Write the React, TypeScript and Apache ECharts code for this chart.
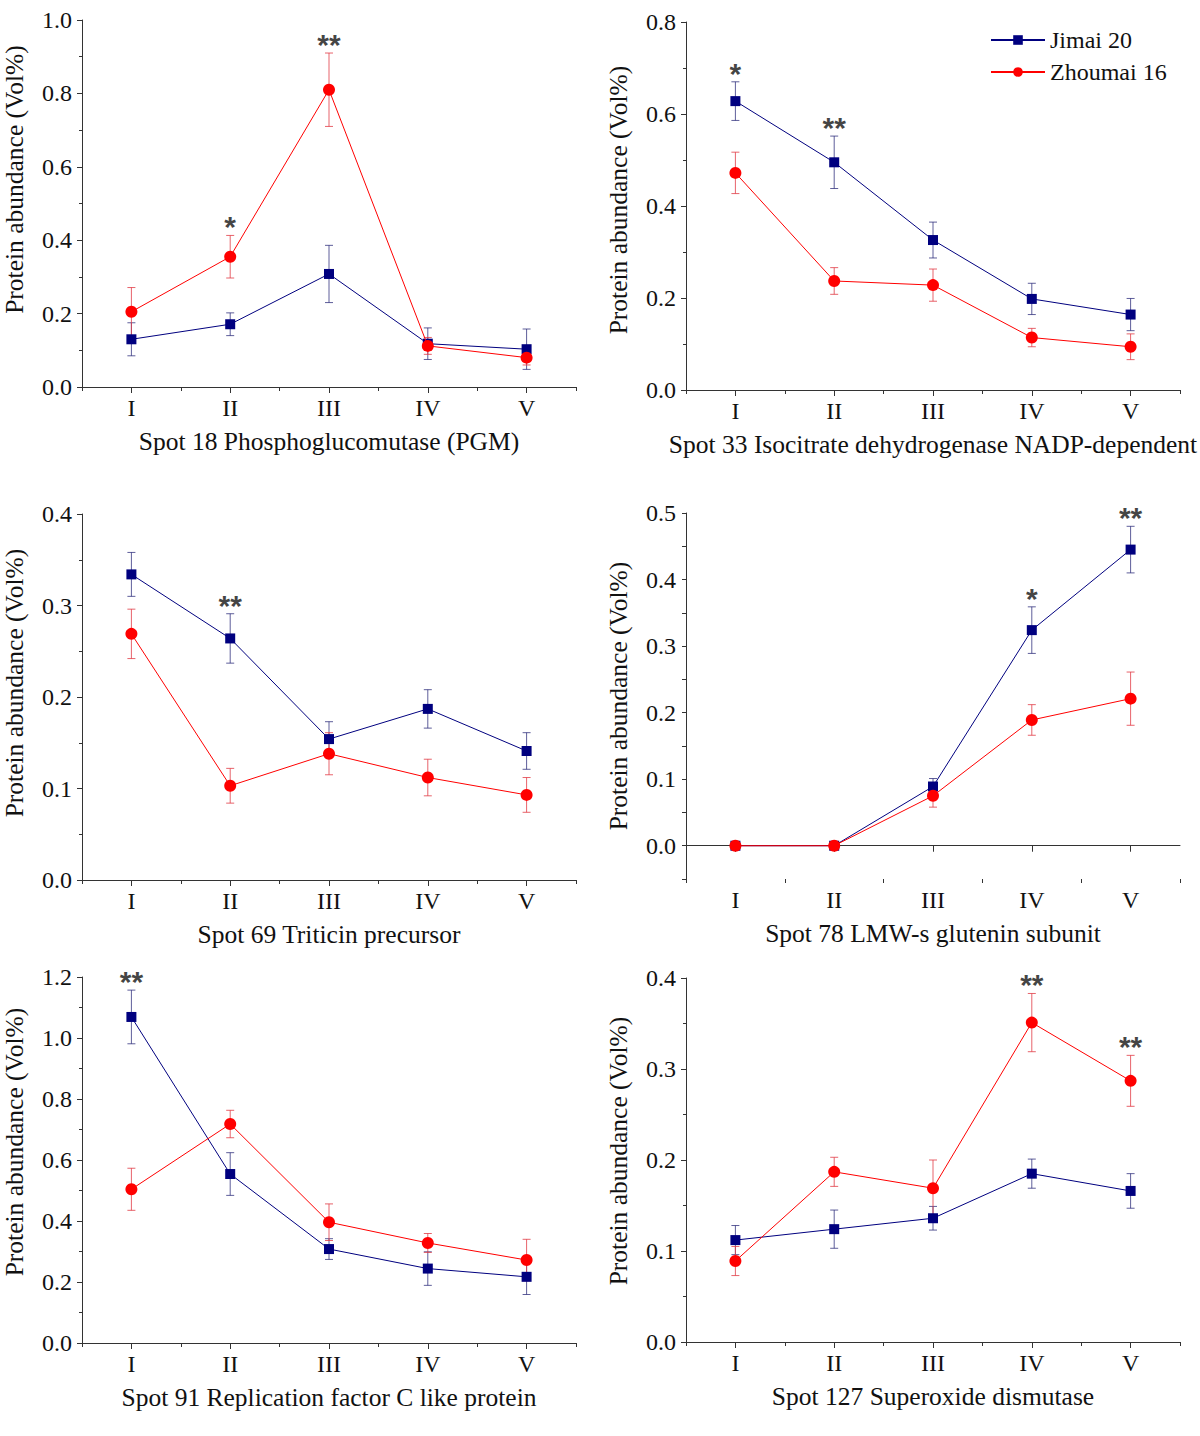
import React, { useEffect, useRef } from "react";
import * as echarts from "echarts";

const CATS = ["I", "II", "III", "IV", "V"];
const SERIES_NAMES = ["Jimai 20", "Zhoumai 16"];

// Spot 18
const p1Jimai = [0.130, 0.171, 0.308, 0.118, 0.103];
const p1JimaiErr = [0.045, 0.031, 0.078, 0.043, 0.055];
const p1Zhou = [0.205, 0.355, 0.810, 0.112, 0.080];
const p1ZhouErr = [0.066, 0.058, 0.100, 0.023, 0.020];
const p1Sig = ["", "*", "**", "", ""];

// Spot 33
const p2Jimai = [0.628, 0.495, 0.326, 0.198, 0.164];
const p2JimaiErr = [0.042, 0.057, 0.039, 0.034, 0.035];
const p2Zhou = [0.472, 0.237, 0.228, 0.114, 0.094];
const p2ZhouErr = [0.045, 0.029, 0.035, 0.020, 0.028];
const p2Sig = ["*", "**", "", "", ""];

// Spot 69
const p3Jimai = [0.334, 0.264, 0.154, 0.187, 0.141];
const p3JimaiErr = [0.024, 0.027, 0.019, 0.021, 0.020];
const p3Zhou = [0.269, 0.103, 0.138, 0.112, 0.093];
const p3ZhouErr = [0.027, 0.019, 0.023, 0.020, 0.019];
const p3Sig = ["", "**", "", "", ""];

// Spot 78
const p4Jimai = [0, 0, 0.089, 0.324, 0.445];
const p4JimaiErr = [0, 0, 0.012, 0.035, 0.035];
const p4Zhou = [0, 0, 0.075, 0.189, 0.221];
const p4ZhouErr = [0, 0, 0.017, 0.023, 0.040];
const p4Sig = ["", "", "", "*", "**"];

// Spot 91
const p5Jimai = [1.069, 0.554, 0.308, 0.244, 0.217];
const p5JimaiErr = [0.088, 0.070, 0.034, 0.055, 0.058];
const p5Zhou = [0.504, 0.718, 0.396, 0.328, 0.272];
const p5ZhouErr = [0.069, 0.045, 0.060, 0.031, 0.068];
const p5Sig = ["**", "", "", "", ""];

// Spot 127
const p6Jimai = [0.112, 0.124, 0.136, 0.185, 0.166];
const p6JimaiErr = [0.016, 0.021, 0.013, 0.016, 0.019];
const p6Zhou = [0.089, 0.187, 0.169, 0.351, 0.287];
const p6ZhouErr = [0.016, 0.016, 0.031, 0.032, 0.028];
const p6Sig = ["", "", "", "**", "**"];

const TITLES = [
  "Spot 18 Phosphoglucomutase (PGM)",
  "Spot 33 Isocitrate dehydrogenase NADP-dependent",
  "Spot 69 Triticin precursor",
  "Spot 78 LMW-s glutenin subunit",
  "Spot 91 Replication factor C like protein",
  "Spot 127 Superoxide dismutase",
];
const Y_TITLE = "Protein abundance (Vol%)";

const Y_MIN = [0, 0, 0, -0.05, 0, 0];
const Y_MAX = [1.0, 0.8, 0.4, 0.5, 1.2, 0.4];
const Y_INTERVAL = [0.2, 0.2, 0.1, 0.05, 0.2, 0.1];

const PANELS = [
  { j: p1Jimai, je: p1JimaiErr, z: p1Zhou, ze: p1ZhouErr, sig: p1Sig },
  { j: p2Jimai, je: p2JimaiErr, z: p2Zhou, ze: p2ZhouErr, sig: p2Sig },
  { j: p3Jimai, je: p3JimaiErr, z: p3Zhou, ze: p3ZhouErr, sig: p3Sig },
  { j: p4Jimai, je: p4JimaiErr, z: p4Zhou, ze: p4ZhouErr, sig: p4Sig },
  { j: p5Jimai, je: p5JimaiErr, z: p5Zhou, ze: p5ZhouErr, sig: p5Sig },
  { j: p6Jimai, je: p6JimaiErr, z: p6Zhou, ze: p6ZhouErr, sig: p6Sig },
];

const GRIDS = [
  { left: 82, top: 20, width: 494, height: 367 },
  { left: 686, top: 22, width: 494, height: 368 },
  { left: 82, top: 514, width: 494, height: 366 },
  { left: 686, top: 513, width: 494, height: 366 },
  { left: 82, top: 977, width: 494, height: 366 },
  { left: 686, top: 978, width: 494, height: 364 },
];
// upward shift of the y-axis title along the axis, per panel
const Y_TITLE_SHIFT = [24, 6, 14, 0, 18, 9];

const FONT = '"Liberation Serif", "Times New Roman", serif';
const BLUE = "#00007f";
const RED = "#ff0000";
const BLUE_ERR = "rgba(40,40,120,0.75)";
const RED_ERR = "rgba(225,60,70,0.8)";
const AXIS = "#333";

function errSeries(idx: number, vals: number[], errs: number[], color: string) {
  return {
    type: "custom",
    xAxisIndex: idx * 2,
    yAxisIndex: idx,
    z: 2,
    silent: true,
    encode: { x: 0, y: 1 },
    data: vals.map((v, k) => [k, v, errs[k]]),
    renderItem: (params: any, api: any) => {
      const x = api.value(0);
      const y = api.value(1);
      const e = api.value(2);
      if (!e) return { type: "group", children: [] };
      const hi = api.coord([x, y + e]);
      const lo = api.coord([x, y - e]);
      const cap = 4;
      const style = { stroke: color, lineWidth: 1 };
      return {
        type: "group",
        children: [
          { type: "line", shape: { x1: hi[0], y1: hi[1], x2: lo[0], y2: lo[1] }, style },
          { type: "line", shape: { x1: hi[0] - cap, y1: hi[1], x2: hi[0] + cap, y2: hi[1] }, style },
          { type: "line", shape: { x1: lo[0] - cap, y1: lo[1], x2: lo[0] + cap, y2: lo[1] }, style },
        ],
      };
    },
  };
}

function buildOption() {
  const grid: any[] = [];
  const xAxis: any[] = [];
  const yAxis: any[] = [];
  const series: any[] = [];

  PANELS.forEach((p, i) => {
    grid.push({ ...GRIDS[i], containLabel: false, outerBoundsMode: "none" });
    xAxis.push({
      type: "category",
      gridIndex: i,
      data: CATS,
      boundaryGap: true,
      position: "bottom",
      axisLine: { show: true, lineStyle: { color: AXIS, width: 1 } },
      axisTick: { show: true, alignWithLabel: true, interval: 0, length: 6, lineStyle: { color: AXIS } },
      axisLabel: { interval: 0, fontSize: 24, color: "#111", fontFamily: FONT, margin: 9 },
      splitLine: { show: false },
      name: TITLES[i],
      nameLocation: "middle",
      nameGap: 41,
      nameTextStyle: { fontSize: 25.5, color: "#111", fontFamily: FONT },
    });
    xAxis.push({
      type: "category",
      gridIndex: i,
      data: CATS,
      boundaryGap: true,
      position: "bottom",
      axisLine: { show: false },
      axisTick: { show: true, alignWithLabel: false, interval: 0, length: 4, lineStyle: { color: AXIS } },
      axisLabel: { show: false, interval: 0 },
      splitLine: { show: false },
    });
    const special = i === 3;
    yAxis.push({
      type: "value",
      gridIndex: i,
      min: Y_MIN[i],
      max: Y_MAX[i],
      interval: Y_INTERVAL[i],
      axisLine: { show: true, lineStyle: { color: AXIS, width: 1 } },
      axisTick: { show: true, inside: false, length: special ? 4 : 5, lineStyle: { color: AXIS } },
      minorTick: { show: !special, splitNumber: 2, length: 3, lineStyle: { color: AXIS } },
      splitLine: { show: false },
      axisLabel: {
        fontSize: 24,
        color: "#111",
        fontFamily: FONT,
        margin: 10,
        formatter: (v: number) => {
          if (special) {
            if (v < -1e-9) return "";
            if (Math.abs(v * 10 - Math.round(v * 10)) > 1e-6) return "";
          }
          return v.toFixed(1);
        },
      },
      name: Y_TITLE,
      nameLocation: "middle",
      nameGap: 55,
      nameRotate: 90,
      nameTextStyle: {
        fontSize: 25.5,
        color: "#111",
        fontFamily: FONT,
        padding: [0, 0, 0, Y_TITLE_SHIFT[i] * 2],
      },
    });

    series.push(errSeries(i, p.j, p.je, BLUE_ERR));
    series.push(errSeries(i, p.z, p.ze, RED_ERR));
    series.push({
      type: "line",
      name: SERIES_NAMES[0],
      xAxisIndex: i * 2,
      yAxisIndex: i,
      data: p.j,
      symbol: "rect",
      symbolSize: 10,
      showAllSymbol: true,
      itemStyle: { color: BLUE },
      lineStyle: { color: BLUE, width: 1 },
      z: 3,
    });
    series.push({
      type: "line",
      name: SERIES_NAMES[1],
      xAxisIndex: i * 2,
      yAxisIndex: i,
      data: p.z,
      symbol: "circle",
      symbolSize: 12,
      showAllSymbol: true,
      itemStyle: { color: RED },
      lineStyle: { color: RED, width: 1 },
      z: 4,
    });
    const sigData: any[] = [];
    p.sig.forEach((s, k) => {
      if (s) {
        const top = Math.max(p.j[k] + p.je[k], p.z[k] + p.ze[k]);
        sigData.push({ name: s, value: [k, top] });
      }
    });
    series.push({
      type: "scatter",
      xAxisIndex: i * 2,
      yAxisIndex: i,
      data: sigData,
      symbolSize: 1,
      itemStyle: { color: "transparent" },
      clip: false,
      silent: true,
      z: 5,
      label: {
        show: true,
        position: "top",
        distance: 0,
        offset: [0, 7],
        formatter: "{b}",
        fontSize: 30,
        fontWeight: "bold",
        fontFamily: '"Liberation Sans", Arial, sans-serif',
        color: "#111",
      },
    });
  });

  return {
    animation: false,
    backgroundColor: "#fff",
    textStyle: { fontFamily: FONT },
    legend: {
      data: SERIES_NAMES,
      orient: "vertical",
      left: 985,
      top: 23,
      itemWidth: 54,
      itemHeight: 12,
      itemGap: 8,
      textStyle: { fontSize: 24, color: "#111", fontFamily: FONT },
    },
    grid,
    xAxis,
    yAxis,
    series,
  };
}

export default function App() {
  const ref = useRef<HTMLDivElement>(null);
  useEffect(() => {
    if (!ref.current) return;
    const chart = echarts.init(ref.current, undefined, { renderer: "svg" });
    chart.setOption(buildOption() as any);
    return () => chart.dispose();
  }, []);
  return (
    <div
      ref={ref}
      style={{ position: "absolute", left: 0, top: 0, width: 1200, height: 1436, background: "#fff" }}
    />
  );
}
